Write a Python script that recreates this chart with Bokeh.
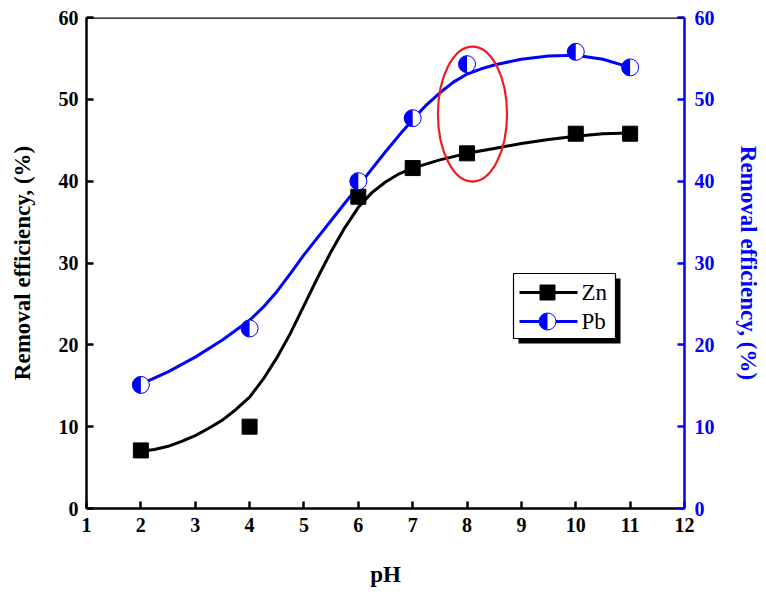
import numpy as np
from bokeh.plotting import figure
from bokeh.models import Range1d, LinearAxis, Span, FixedTicker
from bokeh.core.properties import value
from bokeh.embed import file_html
from bokeh.resources import INLINE

# ---- data ----
ph = [2, 4, 6, 7, 8, 10, 11]
zn = [7.1, 10.0, 38.1, 41.6, 43.4, 45.8, 45.8]
pb = [15.1, 22.0, 40.0, 47.7, 54.3, 55.8, 53.9]

# fitted (smooth) curves
zn_curve_ph = [2.0, 2.25, 2.5, 2.75, 3.0, 3.25, 3.5, 3.75, 4.0, 4.25, 4.5, 4.75, 5.0, 5.25,
               5.5, 5.75, 6.0, 6.25, 6.5, 6.75, 7.0, 7.5, 8.0, 8.5, 9.0, 9.5, 10.0, 10.5, 11.0]
zn_fit = [7.0, 7.2, 7.6, 8.2, 8.9, 9.8, 10.8, 12.1, 13.6, 15.8, 18.4, 21.4, 24.8, 28.2,
          31.4, 34.3, 36.8, 38.6, 39.9, 40.9, 41.6, 42.6, 43.4, 44.0, 44.6, 45.1, 45.5, 45.8, 45.9]
pb_curve_ph = [2.0, 2.5, 3.0, 3.5, 4.0, 4.25, 4.5, 4.75, 5.0, 5.25, 5.5, 5.75, 6.0, 6.25,
               6.5, 6.75, 7.0, 7.25, 7.5, 7.75, 8.0, 8.25, 8.5, 9.0, 9.5, 10.0, 10.5, 11.0]
pb_fit = [15.2, 16.7, 18.5, 20.6, 23.0, 24.6, 26.5, 28.7, 31.0, 33.1, 35.2, 37.3, 39.4, 41.5,
          43.6, 45.6, 47.5, 49.3, 50.8, 52.1, 53.1, 53.7, 54.2, 54.9, 55.3, 55.4, 54.9, 53.9]

x_ticks = [1, 2, 3, 4, 5, 6, 7, 8, 9, 10, 11, 12]
y_ticks = [0, 10, 20, 30, 40, 50, 60]

series_names = ["Zn", "Pb"]

# highlighted region (red ellipse annotation)
note_x = [8.1]
note_y = [48.2]
note_w = [1.27]
note_h = [16.5]

FONT = "Liberation Serif"
BLUE = "#0000FF"

FW, FH = 598, 491
p = figure(frame_width=FW, frame_height=FH, output_backend="svg", toolbar_location=None,
           x_range=Range1d(1, 12), y_range=Range1d(0, 60),
           min_border_left=86, min_border_top=17, min_border_right=80, min_border_bottom=85,
           background_fill_color="white", border_fill_color="white")
p.outline_line_color = None
p.xgrid.visible = False
p.ygrid.visible = False

p.extra_y_ranges = {"right": Range1d(0, 60), "fy": Range1d(0, FH)}
p.extra_x_ranges = {"fx": Range1d(0, FW)}

right = LinearAxis(y_range_name="right")
p.add_layout(right, "right")

def style_axis(ax, color, tick_font="20px"):
    ax.axis_line_color = color
    ax.axis_line_width = 2.5
    ax.major_tick_line_color = color
    ax.major_tick_line_width = 2.5
    ax.major_tick_in = 7
    ax.major_tick_out = 0
    ax.minor_tick_line_color = None
    ax.major_label_text_font = FONT
    ax.major_label_text_font_style = "bold"
    ax.major_label_text_font_size = tick_font
    ax.major_label_text_color = color
    ax.axis_label_text_font = FONT
    ax.axis_label_text_font_style = "bold"
    ax.axis_label_text_font_size = "23px"
    ax.axis_label_text_color = color

xa = p.xaxis[0]
ya = p.yaxis[0]
style_axis(xa, "black")
style_axis(ya, "black")
style_axis(right, BLUE)
xa.ticker = FixedTicker(ticks=x_ticks)
ya.ticker = FixedTicker(ticks=y_ticks)
right.ticker = FixedTicker(ticks=y_ticks)
xa.axis_label = "pH"
ya.axis_label = "Removal efficiency, (%)"
right.axis_label = "Removal efficiency, (%)"
xa.major_label_standoff = 9
ya.major_label_standoff = 8
right.major_label_standoff = 10
xa.axis_label_standoff = 27
ya.axis_label_standoff = 21
right.axis_label_standoff = 18

p.add_layout(Span(location=60, dimension="width", line_color="black", line_width=2.5))

# curves
p.line(zn_curve_ph, zn_fit, line_color="black", line_width=3)
p.line(pb_curve_ph, pb_fit, line_color=BLUE, line_width=3)

# markers
p.scatter(ph, zn, marker="square", size=15, fill_color="black", line_color="black")
p.scatter(ph, pb, marker="circle", size=17, fill_color="white", line_color=BLUE, line_width=1)
p.wedge(x=ph, y=pb, radius=8.5, radius_units="screen", start_angle=np.pi / 2,
        end_angle=3 * np.pi / 2, fill_color=BLUE, line_color=None)

# red ellipse
p.ellipse(x=note_x, y=note_y, width=note_w, height=note_h, fill_color=None,
          line_color="#EE1C25", line_width=2.2)

# legend box (frame-pixel coordinates, origin at frame bottom-left)
LX0, LX1, LY0, LY1 = 427, 529, 170, 235
SH = 5
p.quad(left=[LX0 + SH], right=[LX1 + SH], bottom=[LY0 - SH], top=[LY1 - SH],
       fill_color="black", line_color=None, x_range_name="fx", y_range_name="fy")
p.quad(left=[LX0], right=[LX1], bottom=[LY0], top=[LY1], fill_color="white",
       line_color="black", line_width=1.2, x_range_name="fx", y_range_name="fy")
row_y = [216, 187]
seg_x0, seg_x1, mark_x, text_x = 433, 491, 461, 495
p.segment(x0=[seg_x0] * 2, y0=row_y, x1=[seg_x1] * 2, y1=row_y, line_color=["black", BLUE],
          line_width=3, x_range_name="fx", y_range_name="fy")
p.scatter(x=[mark_x], y=[row_y[0]], marker="square", size=15, fill_color="black",
          line_color="black", x_range_name="fx", y_range_name="fy")
p.scatter(x=[mark_x], y=[row_y[1]], marker="circle", size=17, fill_color="white",
          line_color=BLUE, line_width=1, x_range_name="fx", y_range_name="fy")
p.wedge(x=[mark_x], y=[row_y[1]], radius=8.5, radius_units="screen", start_angle=np.pi / 2,
        end_angle=3 * np.pi / 2, fill_color=BLUE, line_color=None,
        x_range_name="fx", y_range_name="fy")
p.text(x=[text_x] * 2, y=row_y, text=series_names, text_font=value(FONT),
       text_font_size="23px", text_color="black", text_align="left",
       text_baseline="middle", x_range_name="fx", y_range_name="fy")

open("out.html", "w").write(file_html(p, INLINE))
